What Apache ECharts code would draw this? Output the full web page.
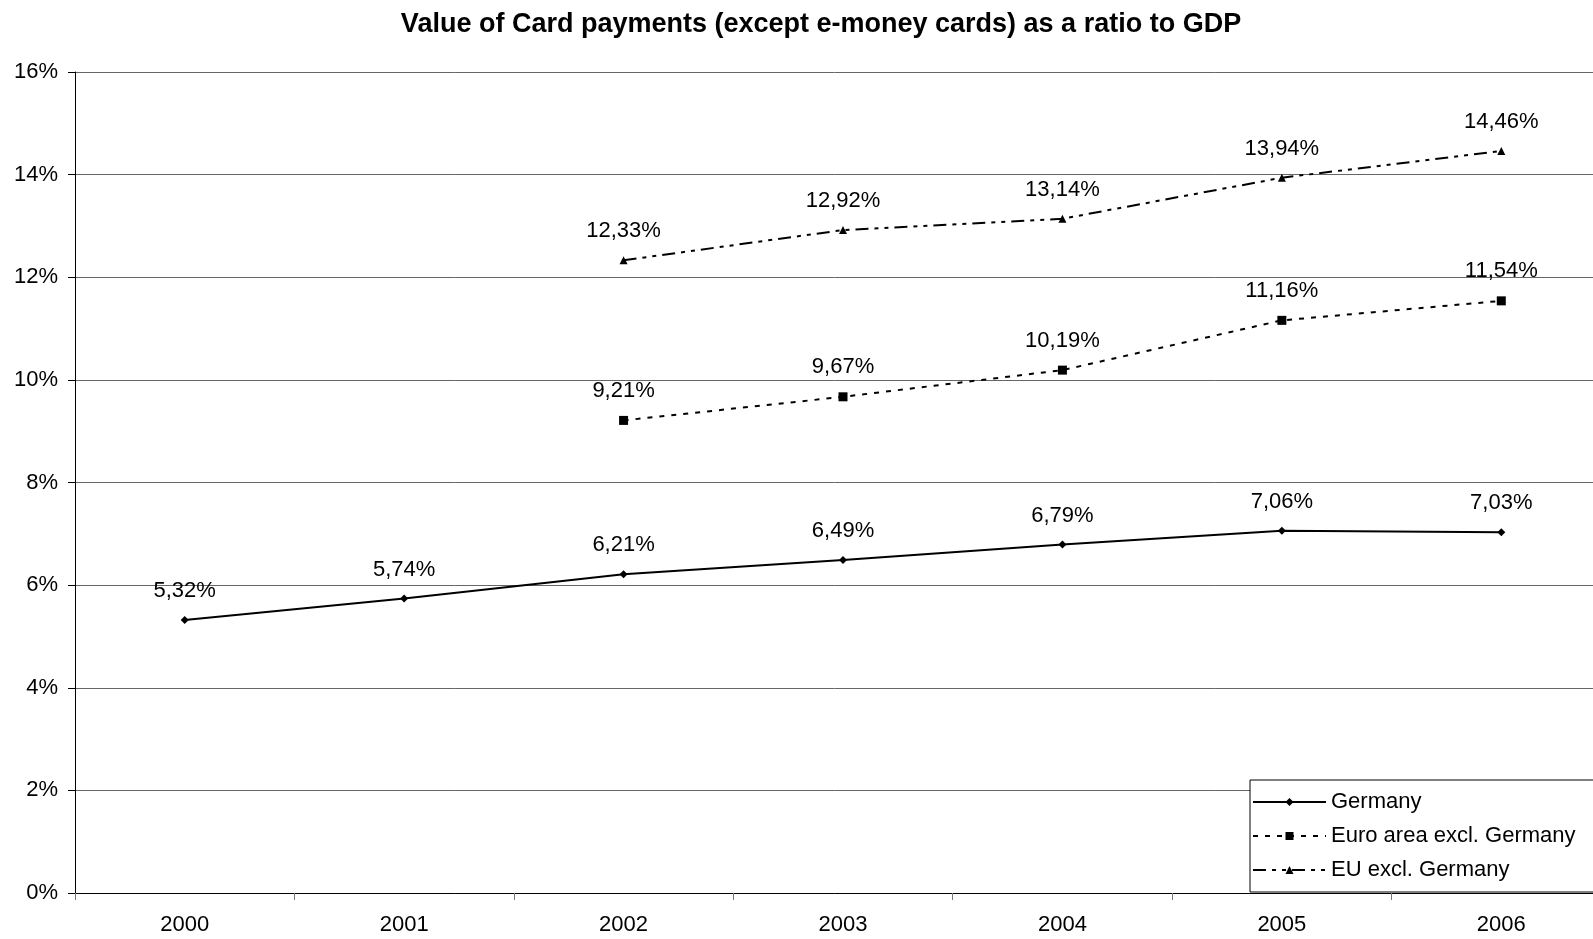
<!DOCTYPE html>
<html><head><meta charset="utf-8">
<script src="https://cdn.jsdelivr.net/npm/echarts@6/dist/echarts.min.js"></script>
<style>html,body{margin:0;padding:0;background:#fff}#c{width:1593px;height:939px}</style>
</head><body><div id="c"></div>
<script>
const years = ['2000','2001','2002','2003','2004','2005','2006'];
const germany = [5.32, 5.74, 6.21, 6.49, 6.79, 7.06, 7.03];
const euroArea = [null, null, 9.21, 9.67, 10.19, 11.16, 11.54];
const euExcl = [null, null, 12.33, 12.92, 13.14, 13.94, 14.46];
const yTicks = [0, 2, 4, 6, 8, 10, 12, 14, 16];

const FONT = 'Liberation Sans, Arial, sans-serif';
const fmt = v => v.toFixed(2).replace('.', ',') + '%';
const lbl = {show:true, position:'top', distance:14, color:'#000', fontFamily:FONT, fontSize:22,
  formatter: p => p.value == null ? '' : fmt(p.value)};

const chart = echarts.init(document.getElementById('c'), null, {renderer:'canvas'});
chart.setOption({
  animation:false,
  backgroundColor:'#fff',
  title:{text:'Value of Card payments (except e-money cards) as a ratio to GDP', left:816, top:6, textAlign:'center',
    textStyle:{fontFamily:FONT, fontSize:27, fontWeight:'bold', color:'#000'}},
  grid:{left:75, top:72, width:1536, height:821, outerBoundsMode:'none', containLabel:false},
  legend:{orient:'vertical', left:1250, top:780, itemWidth:73, itemHeight:10, itemGap:12,
    padding:[11,60,11,2], borderColor:'#000', borderWidth:1, backgroundColor:'#fff',
    textStyle:{fontFamily:FONT, fontSize:22, lineHeight:22, color:'#000'},
    data:['Germany','Euro area excl. Germany','EU excl. Germany']},
  xAxis:{type:'category', data:years, boundaryGap:true,
    axisLine:{lineStyle:{color:'#000', width:1}},
    axisTick:{show:true, length:7, lineStyle:{color:'#777'}},
    axisLabel:{fontFamily:FONT, fontSize:22, color:'#000', margin:21}},
  yAxis:{type:'value', min:0, max:16, interval:2,
    axisLine:{show:true, lineStyle:{color:'#000', width:1}},
    axisTick:{show:true, length:7, lineStyle:{color:'#000'}},
    splitLine:{show:true, lineStyle:{color:'#666', width:1}},
    axisLabel:{fontFamily:FONT, fontSize:22, color:'#000', margin:17,
      formatter: v => yTicks.includes(v) ? v + '%' : ''}},
  series:[
    {name:'Germany', type:'line', data:germany, symbol:'diamond', symbolSize:8,
      lineStyle:{color:'#000', width:2, type:'solid'}, itemStyle:{color:'#000'}, label:lbl},
    {name:'Euro area excl. Germany', type:'line', data:euroArea, symbol:'rect', symbolSize:9,
      lineStyle:{color:'#000', width:2, type:[5,7]}, itemStyle:{color:'#000'}, label:lbl},
    {name:'EU excl. Germany', type:'line', data:euExcl, symbol:'triangle', symbolSize:8,
      lineStyle:{color:'#000', width:2, type:[13,6,4,6,4,6]}, itemStyle:{color:'#000'}, label:lbl}
  ]
});
</script></body></html>
